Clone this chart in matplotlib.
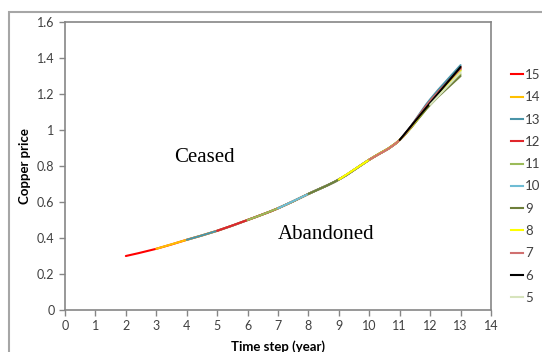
import numpy as np
import matplotlib
matplotlib.use("Agg")
from matplotlib import pyplot as plt
from matplotlib.patches import Rectangle, PathPatch
from matplotlib.path import Path
from matplotlib.lines import Line2D
from matplotlib.ticker import FuncFormatter

# time steps and the shared price path up to year 11
years = [2, 3, 4, 5, 6, 7, 8, 9, 10, 11, 12, 13]
base = [0.30, 0.34, 0.39, 0.44, 0.50, 0.565, 0.645, 0.725, 0.835, 0.945]

# series names (legend order) and their start year
series = [15, 14, 13, 12, 11, 10, 9, 8, 7, 6, 5]
start_year = [2, 3, 4, 5, 6, 7, 8, 9, 10, 11, 12]
# values at years 12 and 13 (paths split slightly at the end)
end_12 = [1.16, 1.15, 1.17, 1.16, 1.14, 1.15, 1.14, 1.15, 1.16, 1.15, 1.14]
end_13 = [1.35, 1.34, 1.36, 1.34, 1.31, 1.33, 1.30, 1.33, 1.34, 1.35, 1.32]
colors = ["#FF0000", "#FFC000", "#4A94A8", "#E0262B", "#9BBB59", "#6FBCD4",
          "#6E7F3A", "#FFFF00", "#D07070", "#000000", "#D7E4BD"]


def smooth_path(x, y):
    # Excel style "smoothed line": cubic bezier through the points
    pts = np.column_stack([x, y]).astype(float)
    verts = [pts[0]]
    codes = [Path.MOVETO]
    n = len(pts)
    for i in range(n - 1):
        p0 = pts[i - 1] if i > 0 else pts[i]
        p1, p2 = pts[i], pts[i + 1]
        p3 = pts[i + 2] if i + 2 < n else pts[i + 1]
        verts += [p1 + (p2 - p0) / 6, p2 - (p3 - p1) / 6, p2]
        codes += [Path.CURVE4] * 3
    return Path(verts, codes)


fig = plt.figure(figsize=(5.42, 3.52), dpi=100)
ax = fig.add_axes([65/542, 1 - 310/352, 426/542, 288/352])

# outer chart frame
fig.add_artist(Rectangle((9/542, -0.2), 1.2, 1 - 12/352 + 0.2, transform=fig.transFigure,
                         fill=False, edgecolor="#A6A6A6", lw=1.5, clip_on=False))

handles = []
for name, s, v12, v13, c in zip(series, start_year, end_12, end_13, colors):
    vals = base + [v12, v13]
    x = [yr for yr in years if yr >= s]
    y = [v for yr, v in zip(years, vals) if yr >= s]
    ax.add_patch(PathPatch(smooth_path(x, y), fill=False, edgecolor=c, lw=1.5,
                           capstyle="round"))
    handles.append(Line2D([], [], color=c, lw=1.5, label=str(name)))

ax.set_xlim(0, 14)
ax.set_ylim(0, 1.6)
ax.set_xticks(range(0, 15))
ax.set_yticks(np.arange(0, 1.61, 0.2))
ax.yaxis.set_major_formatter(FuncFormatter(lambda v, p: f"{v:.1f}".rstrip("0").rstrip(".")))

for sp in ax.spines.values():
    sp.set_color("#868686")
    sp.set_linewidth(1.2)
ax.tick_params(colors="#404040", labelsize=9, length=4, color="#868686", width=1)
for lab in ax.get_xticklabels() + ax.get_yticklabels():
    lab.set_fontfamily("Lato")

ax.set_ylabel("Copper price", fontsize=9.5, fontweight="bold", family="Lato", labelpad=4)
ax.set_xlabel("Time step (year)", fontsize=9.5, fontweight="bold", family="Lato", labelpad=6)

ax.text(3.6, 0.85, "Ceased", fontsize=15, family="Liberation Serif", va="center")
ax.text(7.0, 0.42, "Abandoned", fontsize=15, family="Liberation Serif", va="center")

leg = ax.legend(handles=handles, loc="upper left", bbox_to_anchor=(1.035, 0.855),
                frameon=False, handlelength=0.9, handletextpad=0.15, labelspacing=0.78,
                prop={"family": "Lato", "size": 9.5}, borderaxespad=0)
for t in leg.get_texts():
    t.set_color("#404040")

fig.savefig("out.png", dpi=100)
